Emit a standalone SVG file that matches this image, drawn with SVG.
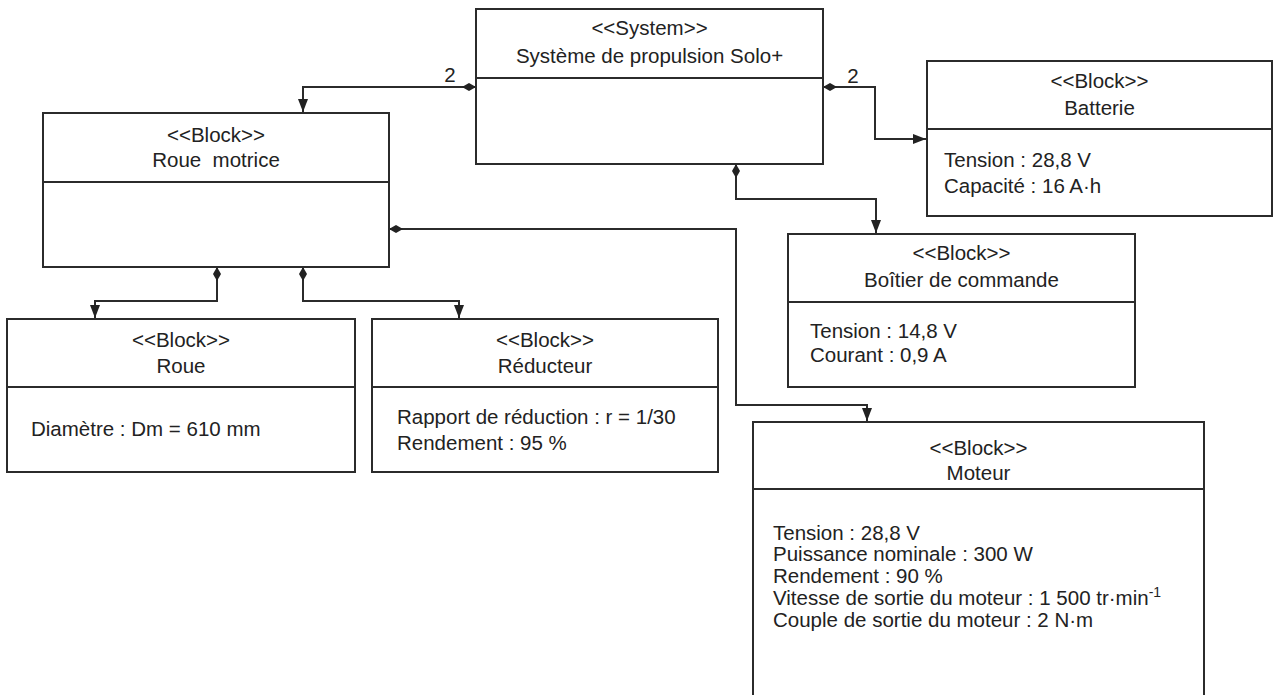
<svg xmlns="http://www.w3.org/2000/svg" width="1274" height="695" viewBox="0 0 1274 695">
<style>
.box{fill:#fff;stroke:#2b2b2b;stroke-width:2}
.sep{stroke:#2b2b2b;stroke-width:2}
text{font-family:"Liberation Sans",Arial,sans-serif;font-size:20.5px;fill:#222}
.c{text-anchor:middle}
.ln{fill:none;stroke:#2b2b2b;stroke-width:2}
</style>
<defs>
<marker id="dia" markerUnits="userSpaceOnUse" markerWidth="16" markerHeight="10" refX="0" refY="4" orient="auto"><path d="M0,4 L7,0 L14,4 L7,8 z" fill="#222"/></marker>
<marker id="arr" markerUnits="userSpaceOnUse" markerWidth="14" markerHeight="12" refX="13" refY="5" orient="auto"><path d="M0,0 L13,5 L0,10 z" fill="#222"/></marker>
</defs>
<g id="connectors">
<polyline class="ln" points="476,87 303,87 303,112" marker-start="url(#dia)" marker-end="url(#arr)"/>
<polyline class="ln" points="823,87 875,87 875,139 926,139" marker-start="url(#dia)" marker-end="url(#arr)"/>
<polyline class="ln" points="736,164 736,199 876,199 876,233" marker-start="url(#dia)" marker-end="url(#arr)"/>
<polyline class="ln" points="389,229 736,229 736,405 867,405 867,421" marker-start="url(#dia)" marker-end="url(#arr)"/>
<polyline class="ln" points="217,267 217,301 95,301 95,318" marker-start="url(#dia)" marker-end="url(#arr)"/>
<polyline class="ln" points="303,267 303,301 459,301 459,318" marker-start="url(#dia)" marker-end="url(#arr)"/>
<text x="450" y="82" class="c">2</text>
<text x="853" y="83" class="c">2</text>
</g>
<g id="system">
<rect class="box" x="476" y="9" width="347" height="155"/>
<line class="sep" x1="476" y1="78" x2="823" y2="78"/>
<text x="649.5" y="35" class="c">&lt;&lt;System&gt;&gt;</text>
<text x="649.5" y="63" class="c">Système de propulsion Solo+</text>
</g>
<g id="roue-motrice">
<rect class="box" x="43" y="113" width="346" height="154"/>
<line class="sep" x1="43" y1="182" x2="389" y2="182"/>
<text x="216" y="142" class="c">&lt;&lt;Block&gt;&gt;</text>
<text x="216" y="167" class="c" xml:space="preserve">Roue  motrice</text>
</g>
<g id="batterie">
<rect class="box" x="927" y="61" width="345" height="155"/>
<line class="sep" x1="927" y1="129" x2="1272" y2="129"/>
<text x="1099.5" y="88" class="c">&lt;&lt;Block&gt;&gt;</text>
<text x="1099.5" y="115" class="c">Batterie</text>
<text x="944" y="167">Tension : 28,8 V</text>
<text x="944" y="193">Capacité : 16 A·h</text>
</g>
<g id="boitier">
<rect class="box" x="788" y="234" width="347" height="153"/>
<line class="sep" x1="788" y1="302" x2="1135" y2="302"/>
<text x="961.5" y="260" class="c">&lt;&lt;Block&gt;&gt;</text>
<text x="961.5" y="287" class="c">Boîtier de commande</text>
<text x="810" y="338">Tension : 14,8 V</text>
<text x="810" y="362">Courant : 0,9 A</text>
</g>
<g id="roue">
<rect class="box" x="7" y="319" width="348" height="153"/>
<line class="sep" x1="7" y1="387" x2="355" y2="387"/>
<text x="181" y="347" class="c">&lt;&lt;Block&gt;&gt;</text>
<text x="181" y="373" class="c">Roue</text>
<text x="31" y="436">Diamètre : Dm = 610 mm</text>
</g>
<g id="reducteur">
<rect class="box" x="372" y="319" width="346" height="153"/>
<line class="sep" x1="372" y1="387" x2="718" y2="387"/>
<text x="545" y="347" class="c">&lt;&lt;Block&gt;&gt;</text>
<text x="545" y="373" class="c">Réducteur</text>
<text x="397" y="424">Rapport de réduction : r = 1/30</text>
<text x="397" y="450">Rendement : 95 %</text>
</g>
<g id="moteur">
<rect class="box" x="753" y="422" width="451" height="300"/>
<line class="sep" x1="753" y1="489" x2="1204" y2="489"/>
<text x="978.5" y="455" class="c">&lt;&lt;Block&gt;&gt;</text>
<text x="978.5" y="480" class="c">Moteur</text>
<text x="773" y="540">Tension : 28,8 V</text>
<text x="773" y="561">Puissance nominale : 300 W</text>
<text x="773" y="583">Rendement : 90 %</text>
<text x="773" y="605">Vitesse de sortie du moteur : 1 500 tr·min<tspan dy="-8" font-size="14">-1</tspan></text>
<text x="773" y="627">Couple de sortie du moteur : 2 N·m</text>
</g>
</svg>
